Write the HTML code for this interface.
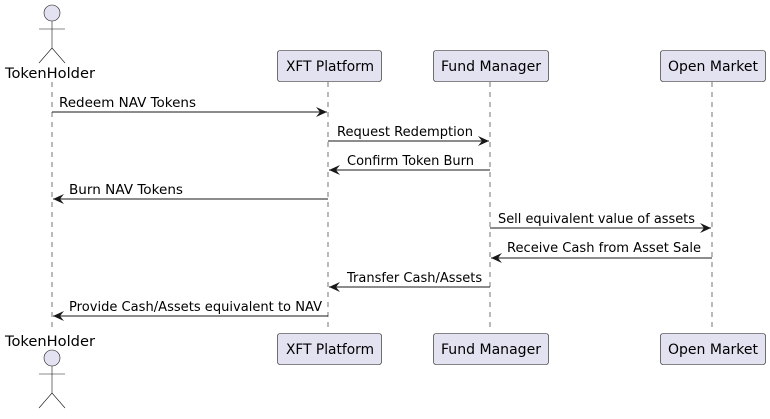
<!DOCTYPE html>
<html><head><meta charset="utf-8"><style>body{margin:0;background:#fff}</style></head><body>
<svg width="770" height="414" xmlns="http://www.w3.org/2000/svg" font-family="DejaVu Sans, Liberation Sans, sans-serif">
<defs><marker id="a" markerWidth="12" markerHeight="10" refX="11" refY="5" orient="auto" markerUnits="userSpaceOnUse"><path d="M0,0 L11,5 L0,10 L4,5 Z" fill="#181818"/></marker></defs>
<g stroke="#181818" stroke-width="0.6" stroke-dasharray="5,5">
<line x1="52" y1="82" x2="52" y2="332"/><line x1="328" y1="82" x2="328" y2="332"/><line x1="490" y1="82" x2="490" y2="332"/><line x1="712" y1="82" x2="712" y2="332"/>
</g>
<g fill="#E2E2F0" stroke="#181818" stroke-width="0.6">
<circle cx="52" cy="13" r="8"/><circle cx="52" cy="358" r="8"/>
<rect x="277.5" y="50.5" width="104" height="31" rx="2.5"/><rect x="433.5" y="50.5" width="115" height="31" rx="2.5"/><rect x="660.5" y="50.5" width="105" height="31" rx="2.5"/>
<rect x="277.5" y="333.5" width="104" height="31" rx="2.5"/><rect x="433.5" y="333.5" width="115" height="31" rx="2.5"/><rect x="660.5" y="333.5" width="105" height="31" rx="2.5"/>
</g>
<g stroke="#181818" stroke-width="0.6" fill="none">
<path d="M52,21V48M39,29H65M39,63L52,48L65,63"/>
<path d="M52,366V393M39,374H65M39,408L52,393L65,408"/>
</g>
<g font-size="14" fill="#000">
<text x="5" y="78" textLength="90" lengthAdjust="spacingAndGlyphs">TokenHolder</text><text x="5" y="346" textLength="90" lengthAdjust="spacingAndGlyphs">TokenHolder</text>
<text x="286" y="71" textLength="88" lengthAdjust="spacingAndGlyphs">XFT Platform</text><text x="441" y="71" textLength="100" lengthAdjust="spacingAndGlyphs">Fund Manager</text><text x="668" y="71" textLength="90" lengthAdjust="spacingAndGlyphs">Open Market</text>
<text x="286" y="354" textLength="88" lengthAdjust="spacingAndGlyphs">XFT Platform</text><text x="441" y="354" textLength="100" lengthAdjust="spacingAndGlyphs">Fund Manager</text><text x="668" y="354" textLength="90" lengthAdjust="spacingAndGlyphs">Open Market</text>
</g>
<g stroke="#181818" stroke-width="1" marker-end="url(#a)">
<line x1="52" y1="112" x2="327" y2="112"/>
<line x1="328" y1="141" x2="489" y2="141"/>
<line x1="490" y1="170" x2="329" y2="170"/>
<line x1="328" y1="199" x2="53" y2="199"/>
<line x1="490" y1="228" x2="711" y2="228"/>
<line x1="712" y1="258" x2="491" y2="258"/>
<line x1="490" y1="287" x2="329" y2="287"/>
<line x1="328" y1="316" x2="53" y2="316"/>
</g>
<g font-size="13" fill="#000">
<text x="59" y="107" textLength="137" lengthAdjust="spacingAndGlyphs">Redeem NAV Tokens</text>
<text x="337" y="136" textLength="136" lengthAdjust="spacingAndGlyphs">Request Redemption</text>
<text x="347" y="165">Confirm Token Burn</text>
<text x="69" y="194" textLength="114" lengthAdjust="spacingAndGlyphs">Burn NAV Tokens</text>
<text x="498" y="223" textLength="197" lengthAdjust="spacingAndGlyphs">Sell equivalent value of assets</text>
<text x="507" y="252" textLength="194" lengthAdjust="spacingAndGlyphs">Receive Cash from Asset Sale</text>
<text x="347" y="282">Transfer Cash/Assets</text>
<text x="69" y="311" textLength="253" lengthAdjust="spacingAndGlyphs">Provide Cash/Assets equivalent to NAV</text>
</g>
</svg>
</body></html>
